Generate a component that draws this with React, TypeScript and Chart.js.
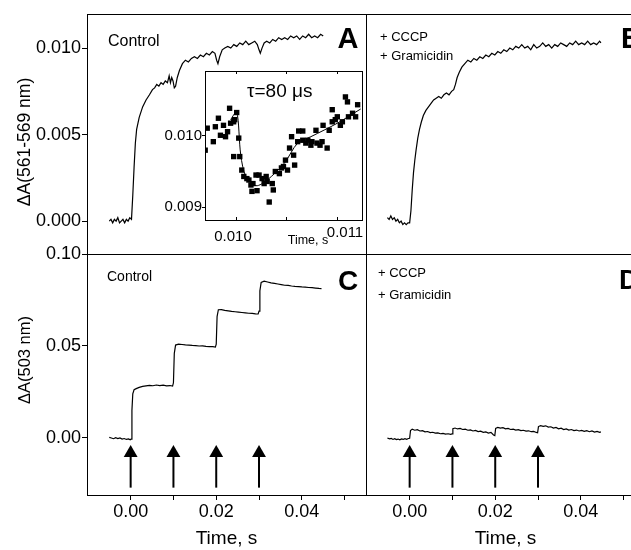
import React, { useEffect, useRef } from "react";
import { Chart, registerables } from "chart.js";

Chart.register(...registerables);

const FONT = '"Liberation Sans", Arial, Helvetica, sans-serif';
const CW = 660;
const CH = 550;

// ---------- shared axes ----------
const X_MIN = -0.0102;
const X_MAX = 0.055;
const X_TICKS = [0, 0.01, 0.02, 0.03, 0.04, 0.05];
const X_TICK_LABELS = ["0.00", "", "0.02", "", "0.04", ""];

const YA_MIN = -0.0019;
const YA_MAX = 0.01197;
const YA_TICKS = [0, 0.005, 0.01];
const YA_TICK_LABELS = ["0.000", "0.005", "0.010"];

const YC_MIN = -0.031;
const YC_MAX = 0.1;
const YC_TICKS = [0, 0.05, 0.1];
const YC_TICK_LABELS = ["0.00", "0.05", "0.10"];

// ---------- panel A : control, 561-569 nm ----------
const A_T = [
  -0.0050, -0.0046, -0.0042, -0.0038, -0.0034, -0.0030, -0.0026, -0.0022, -0.0018, -0.0014,
  -0.0010, -0.0006, -0.0002, 0.0002, 0.0005, 0.0008, 0.0011, 0.0014, 0.0020, 0.0028,
  0.0036, 0.0044, 0.0051, 0.0056, 0.0061, 0.0066, 0.0071, 0.0076, 0.0081, 0.0086,
  0.0090, 0.0093, 0.0096, 0.0099, 0.0102, 0.0105, 0.0109, 0.0114, 0.0121, 0.0128,
  0.0135, 0.0142, 0.0149, 0.0156, 0.0163, 0.0170, 0.0177, 0.0184, 0.0191, 0.0197,
  0.0201, 0.0204, 0.0208, 0.0214, 0.0220, 0.0227, 0.0234, 0.0241, 0.0248, 0.0255,
  0.0262, 0.0269, 0.0276, 0.0283, 0.0290, 0.0296, 0.0300, 0.0303, 0.0307, 0.0312,
  0.0318, 0.0325, 0.0332, 0.0339, 0.0346, 0.0353, 0.0360, 0.0367, 0.0374, 0.0381,
  0.0388, 0.0395, 0.0402, 0.0409, 0.0416, 0.0423, 0.0430, 0.0437, 0.0444, 0.0450,
];
const A_V = [
  0.0000, 0.0001, -0.0001, 0.0001, 0.0000, 0.0002, -0.0001, 0.0000, 0.0001, -0.0001,
  0.0001, 0.0000, 0.0002, 0.0001, 0.0015, 0.0031, 0.0045, 0.0053, 0.0060, 0.0066,
  0.0070, 0.0073, 0.0076, 0.0077, 0.0079, 0.0078, 0.0080, 0.0079, 0.0081, 0.0080,
  0.0084, 0.0080, 0.0083, 0.0081, 0.0077, 0.0078, 0.0083, 0.0087, 0.0091, 0.0093,
  0.0092, 0.0094, 0.0095, 0.0094, 0.0096, 0.0095, 0.0097, 0.0096, 0.0098, 0.0097,
  0.0093, 0.0091, 0.0095, 0.0099, 0.0100, 0.0101, 0.0100, 0.0102, 0.0101, 0.0103,
  0.0102, 0.0104, 0.0102, 0.0103, 0.0104, 0.0102, 0.0099, 0.0097, 0.0100, 0.0103,
  0.0104, 0.0103, 0.0105, 0.0104, 0.0106, 0.0105, 0.0106, 0.0105, 0.0107, 0.0106,
  0.0107, 0.0105, 0.0107, 0.0106, 0.0108, 0.0106, 0.0107, 0.0106, 0.0108, 0.0107,
];

// ---------- panel B : +CCCP +gramicidin, 561-569 nm ----------
const B_T = [
  -0.0052, -0.0048, -0.0044, -0.0040, -0.0036, -0.0032, -0.0028, -0.0024, -0.0020, -0.0016,
  -0.0012, -0.0008, -0.0004, 0.0000, 0.0003, 0.0006, 0.0009, 0.0012, 0.0015, 0.0019,
  0.0023, 0.0027, 0.0032, 0.0038, 0.0044, 0.0050, 0.0056, 0.0062, 0.0068, 0.0074,
  0.0080, 0.0086, 0.0092, 0.0098, 0.0103, 0.0107, 0.0111, 0.0116, 0.0122, 0.0129,
  0.0136, 0.0143, 0.0150, 0.0157, 0.0164, 0.0171, 0.0178, 0.0185, 0.0192, 0.0199,
  0.0206, 0.0213, 0.0220, 0.0227, 0.0234, 0.0241, 0.0248, 0.0255, 0.0262, 0.0269,
  0.0276, 0.0283, 0.0290, 0.0297, 0.0304, 0.0311, 0.0318, 0.0325, 0.0332, 0.0339,
  0.0346, 0.0353, 0.0360, 0.0367, 0.0374, 0.0381, 0.0388, 0.0395, 0.0402, 0.0409,
  0.0416, 0.0423, 0.0430, 0.0437, 0.0444, 0.0447,
];
const B_V = [
  0.0002, 0.0001, 0.0003, 0.0001, 0.0002, 0.0000, 0.0001, -0.0001, 0.0000, -0.0002,
  -0.0001, -0.0002, -0.0001, -0.0001, 0.0006, 0.0018, 0.0028, 0.0035, 0.0041, 0.0048,
  0.0053, 0.0057, 0.0061, 0.0064, 0.0066, 0.0068, 0.0070, 0.0071, 0.0072, 0.0071,
  0.0073, 0.0074, 0.0073, 0.0075, 0.0076, 0.0079, 0.0083, 0.0086, 0.0089, 0.0091,
  0.0093, 0.0092, 0.0094, 0.0093, 0.0095, 0.0094, 0.0096, 0.0095, 0.0097, 0.0096,
  0.0098, 0.0097, 0.0099, 0.0098, 0.0100, 0.0099, 0.0101, 0.0100, 0.0102, 0.0100,
  0.0101, 0.0099, 0.0102, 0.0100, 0.0101, 0.0103, 0.0101, 0.0102, 0.0100, 0.0102,
  0.0101, 0.0103, 0.0102, 0.0101, 0.0103, 0.0102, 0.0104, 0.0102, 0.0103, 0.0102,
  0.0104, 0.0102, 0.0103, 0.0102, 0.0104, 0.0103,
];

// ---------- panel C : control, 503 nm ----------
const C_T = [
  -0.0050, -0.0045, -0.0040, -0.0035, -0.0030, -0.0025, -0.0020, -0.0015, -0.0010, -0.0005,
  -0.0001, 0.0001, 0.0003, 0.0005, 0.0008, 0.0013, 0.0020, 0.0028, 0.0036, 0.0044,
  0.0052, 0.0060, 0.0068, 0.0076, 0.0084, 0.0092, 0.0098, 0.0100, 0.0102, 0.0105,
  0.0112, 0.0120, 0.0128, 0.0136, 0.0144, 0.0152, 0.0160, 0.0168, 0.0176, 0.0184,
  0.0192, 0.0198, 0.0200, 0.0202, 0.0205, 0.0212, 0.0220, 0.0228, 0.0236, 0.0244,
  0.0252, 0.0260, 0.0268, 0.0276, 0.0284, 0.0292, 0.0298, 0.0300, 0.0302, 0.0305,
  0.0312, 0.0320, 0.0328, 0.0336, 0.0344, 0.0352, 0.0360, 0.0368, 0.0376, 0.0384,
  0.0392, 0.0400, 0.0408, 0.0416, 0.0424, 0.0432, 0.0440, 0.0446,
];
const C_V = [
  0.0003, 0.0000, -0.0004, 0.0002, -0.0003, 0.0000, -0.0006, -0.0003, -0.0008, -0.0005,
  -0.0010, -0.0006, 0.0150, 0.0240, 0.0262, 0.0268, 0.0275, 0.0280, 0.0283, 0.0286,
  0.0284, 0.0288, 0.0285, 0.0287, 0.0283, 0.0285, 0.0282, 0.0300, 0.0460, 0.0505,
  0.0510, 0.0508, 0.0506, 0.0505, 0.0503, 0.0502, 0.0500, 0.0501, 0.0498, 0.0497,
  0.0496, 0.0494, 0.0510, 0.0660, 0.0697, 0.0698, 0.0694, 0.0691, 0.0688, 0.0686,
  0.0684, 0.0682, 0.0680, 0.0678, 0.0677, 0.0675, 0.0674, 0.0690, 0.0800, 0.0845,
  0.0852, 0.0848, 0.0843, 0.0840, 0.0837, 0.0834, 0.0830, 0.0829, 0.0826, 0.0824,
  0.0823, 0.0821, 0.0820, 0.0818, 0.0817, 0.0815, 0.0813, 0.0812,
];

// ---------- panel D : +CCCP +gramicidin, 503 nm ----------
const D_T = [
  -0.0052, -0.0047, -0.0043, -0.0039, -0.0035, -0.0031, -0.0027, -0.0023, -0.0019, -0.0015,
  -0.0011, -0.0007, -0.0003, 0.0000, 0.0002, 0.0006, 0.0012, 0.0018, 0.0024, 0.0030,
  0.0036, 0.0042, 0.0048, 0.0054, 0.0060, 0.0066, 0.0072, 0.0078, 0.0084, 0.0090,
  0.0096, 0.0099, 0.0101, 0.0106, 0.0112, 0.0118, 0.0124, 0.0130, 0.0136, 0.0142,
  0.0148, 0.0154, 0.0160, 0.0166, 0.0172, 0.0178, 0.0184, 0.0190, 0.0196, 0.0199,
  0.0201, 0.0206, 0.0212, 0.0218, 0.0224, 0.0230, 0.0236, 0.0242, 0.0248, 0.0254,
  0.0260, 0.0266, 0.0272, 0.0278, 0.0284, 0.0290, 0.0296, 0.0299, 0.0301, 0.0306,
  0.0312, 0.0318, 0.0324, 0.0330, 0.0336, 0.0342, 0.0348, 0.0354, 0.0360, 0.0366,
  0.0372, 0.0378, 0.0384, 0.0390, 0.0396, 0.0402, 0.0408, 0.0414, 0.0420, 0.0426,
  0.0432, 0.0438, 0.0444, 0.0447,
];
const D_V = [
  0.0000, -0.0005, -0.0002, -0.0008, -0.0004, -0.0009, -0.0006, -0.0010, -0.0005, -0.0008,
  -0.0004, -0.0007, -0.0003, -0.0002, 0.0040, 0.0048, 0.0042, 0.0045, 0.0038, 0.0040,
  0.0033, 0.0035, 0.0029, 0.0031, 0.0026, 0.0028, 0.0023, 0.0025, 0.0021, 0.0023,
  0.0020, 0.0022, 0.0050, 0.0054, 0.0049, 0.0052, 0.0046, 0.0048, 0.0042, 0.0044,
  0.0038, 0.0041, 0.0035, 0.0037, 0.0031, 0.0033, 0.0027, 0.0030, 0.0016, 0.0013,
  0.0052, 0.0058, 0.0054, 0.0056, 0.0050, 0.0052, 0.0046, 0.0048, 0.0043, 0.0045,
  0.0040, 0.0042, 0.0037, 0.0039, 0.0034, 0.0036, 0.0030, 0.0028, 0.0062, 0.0067,
  0.0063, 0.0066, 0.0059, 0.0061, 0.0054, 0.0057, 0.0050, 0.0053, 0.0046, 0.0049,
  0.0043, 0.0046, 0.0040, 0.0043, 0.0038, 0.0041, 0.0036, 0.0040, 0.0034, 0.0038,
  0.0032, 0.0036, 0.0031, 0.0033,
];

// flash arrows (panels C, D)
const FLASH_TIMES = [0, 0.01, 0.02, 0.03];
const ARROW_TAIL = -0.027;
const ARROW_HEAD = -0.0082;

// ---------- inset ----------
const IN_X_MIN = 0.009698;
const IN_X_MAX = 0.011243;
const IN_Y_MIN = 0.008817;
const IN_Y_MAX = 0.010915;
const IN_X_TICKS = [0.01, 0.0105, 0.011];
const IN_X_TICK_LABELS = ["0.010", "", "0.011"];
const IN_Y_TICKS = [0.009, 0.01];
const IN_Y_TICK_LABELS = ["0.009", "0.010"];

const IN_PT_T = [
  0.00970, 0.00972, 0.00978, 0.00980, 0.00983, 0.00985, 0.00988, 0.00990, 0.00992, 0.00994,
  0.00995, 0.00998, 0.00999, 0.01001, 0.01003, 0.00998, 0.01004, 0.01006, 0.01008, 0.01011,
  0.01013, 0.01015, 0.01016, 0.01017, 0.01020, 0.01021, 0.01023, 0.01026, 0.01028, 0.01030,
  0.01031, 0.01033, 0.01036, 0.01037, 0.01039, 0.01043, 0.01045, 0.01047, 0.01049, 0.01051,
  0.01053, 0.01055, 0.01057, 0.01058, 0.01061, 0.01062, 0.01066, 0.01066, 0.01069, 0.01071,
  0.01074, 0.01075, 0.01079, 0.01080, 0.01083, 0.01085, 0.01086, 0.01090, 0.01092, 0.01095,
  0.01095, 0.01098, 0.01100, 0.01103, 0.01105, 0.01108, 0.01110, 0.01111, 0.01115, 0.01118,
  0.01120,
];
const IN_PT_V = [
  0.00980, 0.01011, 0.00992, 0.01013, 0.01025, 0.01001, 0.01015, 0.00999, 0.01006, 0.01039,
  0.01018, 0.01020, 0.01023, 0.01033, 0.00997, 0.00971, 0.00971, 0.00952, 0.00943, 0.00940,
  0.00938, 0.00931, 0.00922, 0.00933, 0.00945, 0.00923, 0.00945, 0.00940, 0.00933, 0.00943,
  0.00936, 0.00907, 0.00933, 0.00924, 0.00950, 0.00947, 0.00955, 0.00957, 0.00966, 0.00952,
  0.00983, 0.00999, 0.00973, 0.00959, 0.00992, 0.01007, 0.01007, 0.00994, 0.00990, 0.00994,
  0.00987, 0.00992, 0.01008, 0.00990, 0.00987, 0.00992, 0.01015, 0.00983, 0.01008, 0.01020,
  0.01037, 0.01023, 0.01027, 0.01015, 0.01020, 0.01055, 0.01048, 0.01027, 0.01032, 0.01027,
  0.01044,
];
const IN_FIT_T = [0.00995, 0.01001, 0.01005, 0.0101, 0.0102, 0.01031, 0.01048, 0.01061, 0.01074, 0.011, 0.01123];
const IN_FIT_V = [0.01023, 0.01034, 0.00973, 0.00943, 0.0093, 0.00938, 0.00962, 0.0099, 0.00999, 0.01018, 0.01038];

// ---------- helpers ----------
const pts = (t: number[], v: number[]) => t.map((x, i) => ({ x, y: v[i] }));

type TextItem = {
  text: string;
  x: number;
  y: number;
  size: number;
  bold?: boolean;
  align?: CanvasTextAlign;
  rotate?: number;
};

function textsPlugin(items: TextItem[]) {
  return {
    id: "texts",
    afterDraw(chart: any) {
      const ctx = chart.ctx as CanvasRenderingContext2D;
      items.forEach((it) => {
        ctx.save();
        ctx.font = `${it.bold ? "bold " : ""}${it.size}px ${FONT}`;
        ctx.fillStyle = "#000";
        ctx.textAlign = it.align || "left";
        ctx.textBaseline = "middle";
        ctx.translate(it.x, it.y);
        if (it.rotate) ctx.rotate(it.rotate);
        ctx.fillText(it.text, 0, 0);
        ctx.restore();
      });
    },
  };
}

function framePlugin(fillWhite: boolean) {
  return {
    id: "frame",
    beforeDraw(chart: any) {
      if (!fillWhite) return;
      const { left, top, right, bottom } = chart.chartArea;
      const ctx = chart.ctx as CanvasRenderingContext2D;
      ctx.save();
      ctx.fillStyle = "#fff";
      ctx.fillRect(left, top, right - left, bottom - top);
      ctx.restore();
    },
    afterDraw(chart: any) {
      const { left, top, right, bottom } = chart.chartArea;
      const ctx = chart.ctx as CanvasRenderingContext2D;
      ctx.save();
      ctx.strokeStyle = "#000";
      ctx.lineWidth = 1;
      ctx.strokeRect(
        Math.round(left) + 0.5,
        Math.round(top) + 0.5,
        Math.round(right - left),
        Math.round(bottom - top)
      );
      ctx.restore();
    },
  };
}

// inside tick marks on the inset's top and bottom edges
const insetTicksPlugin = {
  id: "insetTicks",
  afterDraw(chart: any) {
    const { top, bottom } = chart.chartArea;
    const xs = chart.scales.x;
    const ctx = chart.ctx as CanvasRenderingContext2D;
    ctx.save();
    ctx.strokeStyle = "#000";
    ctx.lineWidth = 1;
    IN_X_TICKS.forEach((v) => {
      const px = Math.round(xs.getPixelForValue(v)) + 0.5;
      ctx.beginPath();
      ctx.moveTo(px, top);
      ctx.lineTo(px, top + 3);
      ctx.moveTo(px, bottom);
      ctx.lineTo(px, bottom - 3);
      ctx.stroke();
    });
    ctx.restore();
  },
};

function xAxis(show: boolean) {
  const ax: any = {
    type: "linear",
    min: X_MIN,
    max: X_MAX,
    display: show,
    afterBuildTicks: (a: any) => {
      a.ticks = X_TICKS.map((v) => ({ value: v }));
    },
    border: { display: false },
    grid: { drawOnChartArea: false, drawTicks: true, tickLength: 5, tickColor: "#000", tickWidth: 1 },
    ticks: {
      callback: (_v: any, i: number) => X_TICK_LABELS[i],
      font: { family: FONT, size: 18 },
      color: "#000",
      padding: 1,
      maxRotation: 0,
      autoSkip: false,
    },
    title: {
      display: true,
      text: "Time, s",
      font: { family: FONT, size: 19 },
      color: "#000",
      padding: { top: 0, bottom: 0 },
    },
  };
  if (show) {
    ax.afterFit = (a: any) => {
      a.height = 55;
    };
  }
  return ax;
}

function yAxis(min: number, max: number, ticks: number[], labels: string[], show: boolean) {
  const ax: any = {
    type: "linear",
    min,
    max,
    display: show,
    afterBuildTicks: (a: any) => {
      a.ticks = ticks.map((v) => ({ value: v }));
    },
    border: { display: false },
    grid: { drawOnChartArea: false, drawTicks: true, tickLength: 5, tickColor: "#000", tickWidth: 1 },
    ticks: {
      callback: (_v: any, i: number) => labels[i],
      font: { family: FONT, size: 18 },
      color: "#000",
      padding: 1,
      autoSkip: false,
    },
  };
  if (show) {
    ax.afterFit = (a: any) => {
      a.width = 87;
    };
  }
  return ax;
}

const traceDs = (t: number[], v: number[]) => ({
  data: pts(t, v),
  showLine: true,
  borderColor: "#000",
  borderWidth: 1.2,
  pointRadius: 0,
  tension: 0,
});

const arrowDatasets = () => [
  ...FLASH_TIMES.map((t) => ({
    data: [
      { x: t, y: ARROW_TAIL },
      { x: t, y: ARROW_HEAD },
    ],
    showLine: true,
    borderColor: "#000",
    borderWidth: 2,
    pointRadius: 0,
  })),
  {
    data: FLASH_TIMES.map((t) => ({ x: t, y: ARROW_HEAD })),
    showLine: false,
    pointStyle: "triangle",
    pointRadius: 8,
    backgroundColor: "#000",
    borderColor: "#000",
    borderWidth: 0,
  },
];

const baseOptions = (padding: any, scales: any) => ({
  responsive: false,
  maintainAspectRatio: false,
  animation: false,
  devicePixelRatio: 1,
  events: [],
  layout: { padding },
  plugins: { legend: { display: false }, tooltip: { enabled: false } },
  scales,
});

// ---------- chart configs ----------
function configA(): any {
  return {
    type: "scatter",
    data: { datasets: [traceDs(A_T, A_V)] },
    options: baseOptions(
      { left: 0, top: 14, right: CW - 366, bottom: CH - 254 },
      { x: xAxis(false), y: yAxis(YA_MIN, YA_MAX, YA_TICKS, YA_TICK_LABELS, true) }
    ),
    plugins: [
      framePlugin(false),
      textsPlugin([
        { text: "ΔA(561-569 nm)", x: 25, y: 142, size: 17.5, rotate: -Math.PI / 2, align: "center" },
        { text: "Control", x: 108, y: 42, size: 16 },
        { text: "A", x: 348, y: 40, size: 29, bold: true, align: "center" },
      ]),
    ],
  };
}

function configB(): any {
  return {
    type: "scatter",
    data: { datasets: [traceDs(B_T, B_V)] },
    options: baseOptions(
      { left: 366, top: 14, right: CW - 645, bottom: CH - 254 },
      { x: xAxis(false), y: yAxis(YA_MIN, YA_MAX, YA_TICKS, YA_TICK_LABELS, false) }
    ),
    plugins: [
      framePlugin(false),
      textsPlugin([
        { text: "+ CCCP", x: 380, y: 37, size: 13 },
        { text: "+ Gramicidin", x: 380, y: 56, size: 13 },
        { text: "B", x: 621, y: 40, size: 29, bold: true },
      ]),
    ],
  };
}

function configC(): any {
  return {
    type: "scatter",
    data: { datasets: [traceDs(C_T, C_V), ...arrowDatasets()] },
    options: baseOptions(
      { left: 0, top: 254, right: CW - 366, bottom: 0 },
      { x: xAxis(true), y: yAxis(YC_MIN, YC_MAX, YC_TICKS, YC_TICK_LABELS, true) }
    ),
    plugins: [
      framePlugin(false),
      textsPlugin([
        { text: "ΔA(503 nm)", x: 25, y: 360, size: 16.5, rotate: -Math.PI / 2, align: "center" },
        { text: "Control", x: 107, y: 277, size: 14 },
        { text: "C", x: 348, y: 282, size: 28, bold: true, align: "center" },
      ]),
    ],
  };
}

function configD(): any {
  return {
    type: "scatter",
    data: { datasets: [traceDs(D_T, D_V), ...arrowDatasets()] },
    options: baseOptions(
      { left: 366, top: 254, right: CW - 645, bottom: 0 },
      { x: xAxis(true), y: yAxis(YC_MIN, YC_MAX, YC_TICKS, YC_TICK_LABELS, false) }
    ),
    plugins: [
      framePlugin(false),
      textsPlugin([
        { text: "+ CCCP", x: 378, y: 273, size: 13 },
        { text: "+ Gramicidin", x: 378, y: 295, size: 13 },
        { text: "D", x: 619, y: 281, size: 28, bold: true },
      ]),
    ],
  };
}

function configInset(): any {
  return {
    type: "scatter",
    data: {
      datasets: [
        {
          data: pts(IN_FIT_T, IN_FIT_V),
          showLine: true,
          borderColor: "#000",
          borderWidth: 1,
          pointRadius: 0,
          tension: 0.3,
        },
        {
          data: pts(IN_PT_T, IN_PT_V),
          showLine: false,
          pointStyle: "rect",
          pointRadius: 3.8,
          backgroundColor: "#000",
          borderColor: "#000",
          borderWidth: 0,
        },
      ],
    },
    options: baseOptions(
      { left: 155, top: 71, right: CW - 362, bottom: CH - 220 - 30 },
      {
        x: {
          type: "linear",
          min: IN_X_MIN,
          max: IN_X_MAX,
          afterBuildTicks: (a: any) => {
            a.ticks = IN_X_TICKS.map((v) => ({ value: v }));
          },
          afterFit: (a: any) => {
            a.height = 30;
          },
          border: { display: false },
          grid: { drawOnChartArea: false, drawTicks: false },
          ticks: {
            callback: () => "",
            font: { family: FONT, size: 15 },
            color: "#000",
            padding: 9,
            maxRotation: 0,
            autoSkip: false,
          },
        },
        y: {
          type: "linear",
          min: IN_Y_MIN,
          max: IN_Y_MAX,
          afterBuildTicks: (a: any) => {
            a.ticks = IN_Y_TICKS.map((v) => ({ value: v }));
          },
          afterFit: (a: any) => {
            a.width = 50;
          },
          border: { display: false },
          grid: { drawOnChartArea: false, drawTicks: true, tickLength: 3, tickColor: "#000" },
          ticks: {
            callback: (_v: any, i: number) => IN_Y_TICK_LABELS[i],
            font: { family: FONT, size: 15 },
            color: "#000",
            padding: 0,
            autoSkip: false,
          },
        },
      }
    ),
    plugins: [
      framePlugin(true),
      insetTicksPlugin,
      textsPlugin([
        { text: "τ=80 μs", x: 247, y: 92, size: 19 },
        { text: IN_X_TICK_LABELS[0], x: 233, y: 237, size: 15, align: "center" },
        { text: "Time, s", x: 308, y: 241, size: 12.5, align: "center" },
        { text: IN_X_TICK_LABELS[2], x: 345, y: 233, size: 15, align: "center" },
      ]),
    ],
  };
}

function ChartCanvas({ make }: { make: () => any }) {
  const ref = useRef<HTMLCanvasElement | null>(null);
  useEffect(() => {
    if (!ref.current) return;
    const chart = new Chart(ref.current, make());
    return () => chart.destroy();
  }, []);
  return (
    <canvas
      ref={ref}
      width={CW}
      height={CH}
      style={{ position: "absolute", left: 0, top: 0, width: CW, height: CH }}
    />
  );
}

export default function App() {
  return (
    <div
      style={{
        position: "fixed",
        left: 0,
        top: 0,
        width: 631,
        height: 550,
        overflow: "hidden",
        background: "#fff",
      }}
    >
      <ChartCanvas make={configA} />
      <ChartCanvas make={configB} />
      <ChartCanvas make={configC} />
      <ChartCanvas make={configD} />
      <ChartCanvas make={configInset} />
    </div>
  );
}
